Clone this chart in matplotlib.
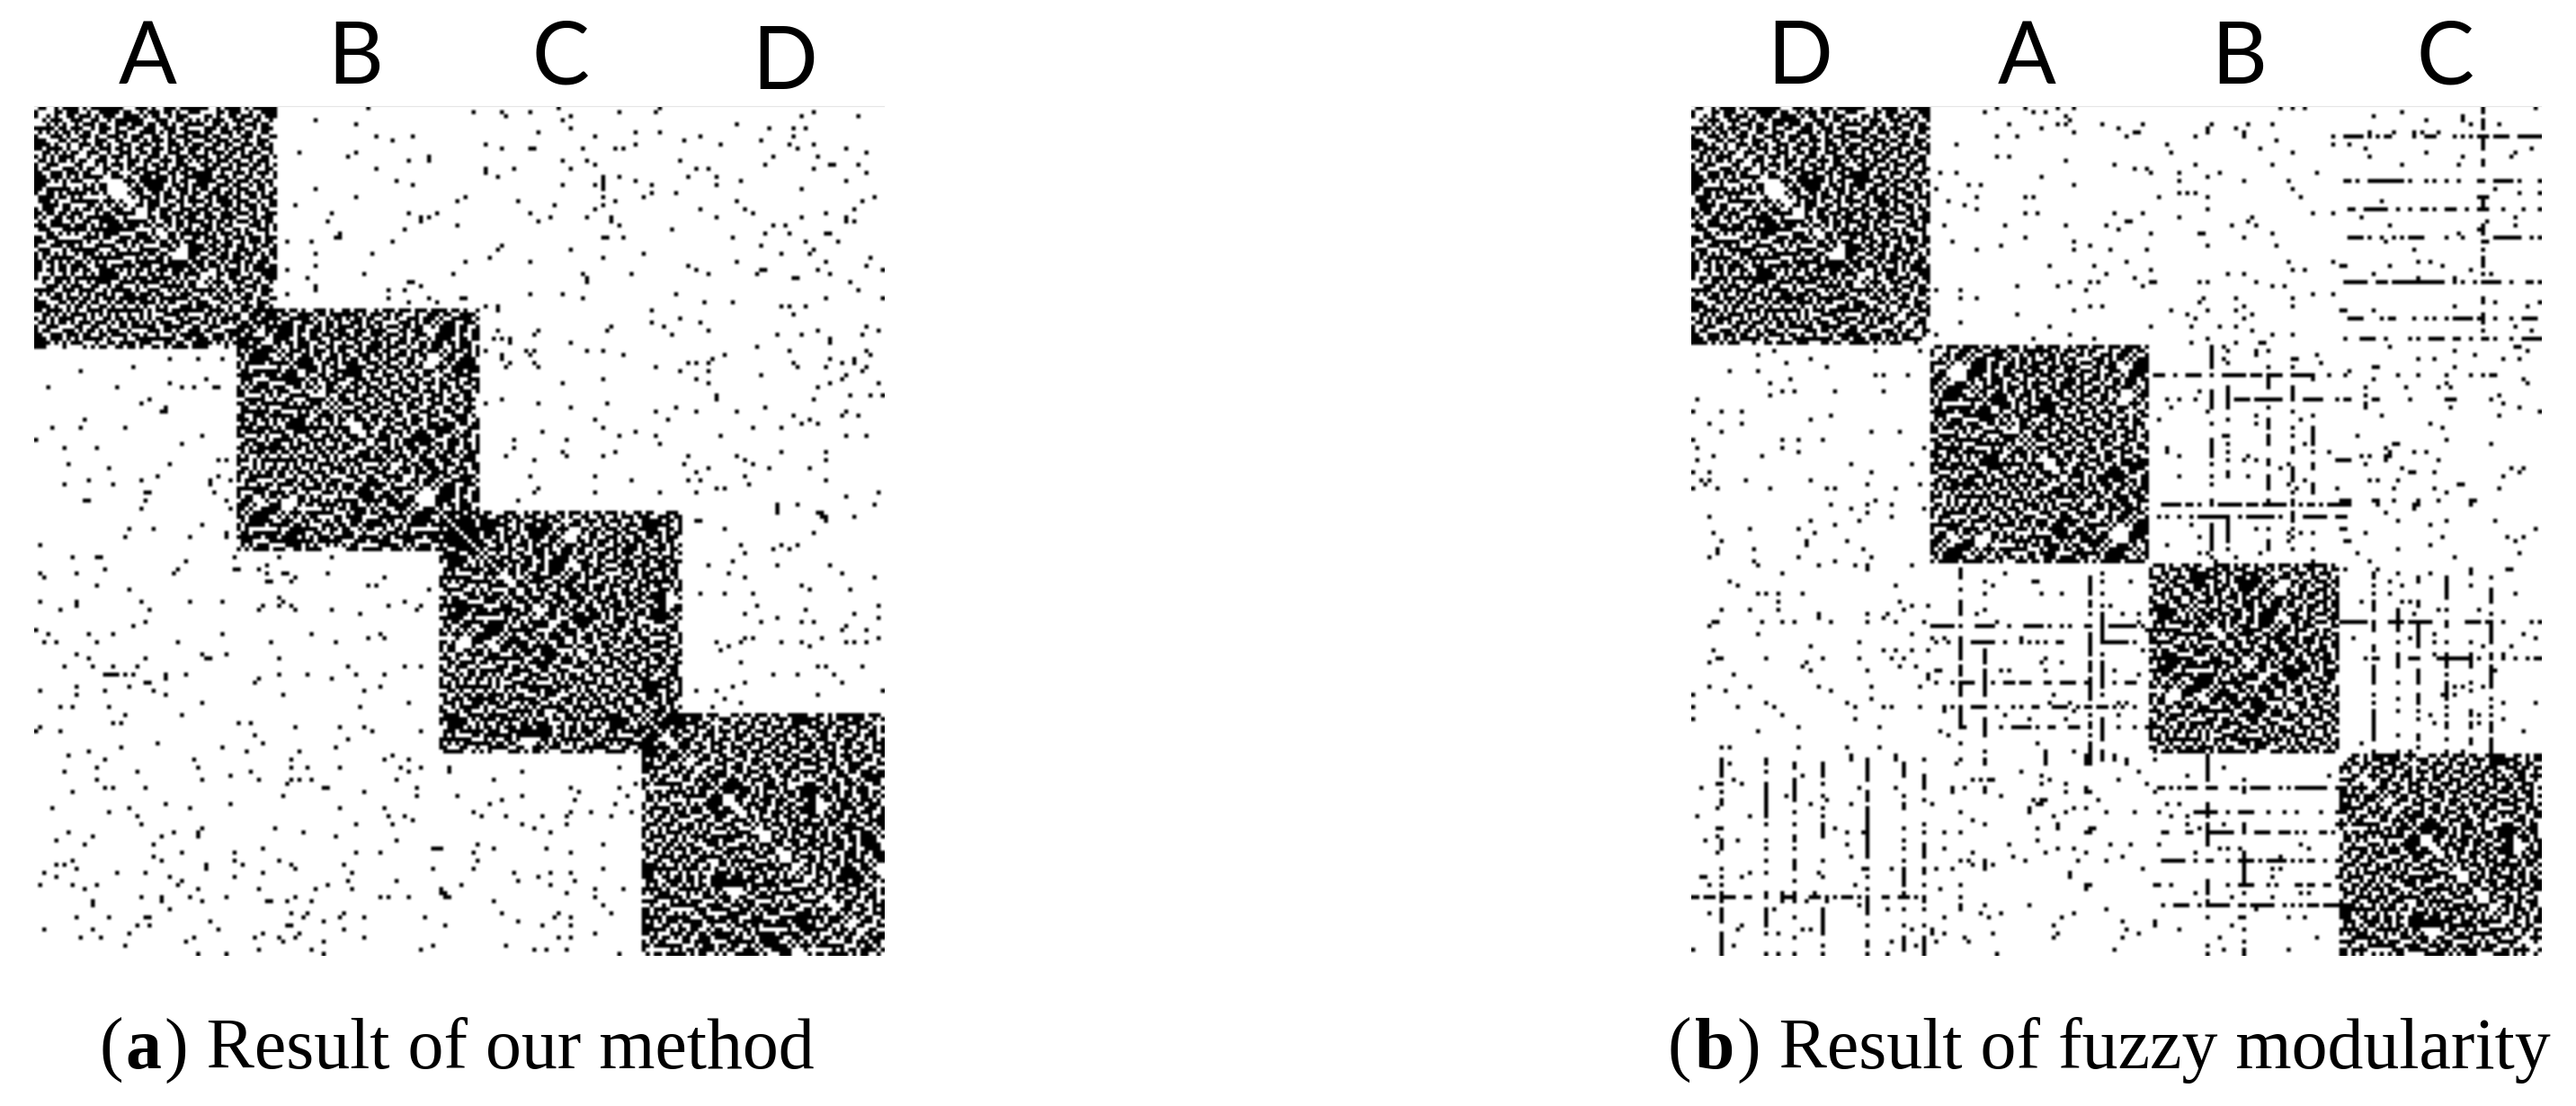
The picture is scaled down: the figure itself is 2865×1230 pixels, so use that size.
import numpy as np
import matplotlib
matplotlib.use("Agg")
import matplotlib.pyplot as plt
from matplotlib.lines import Line2D

N = 210

# Dense communities are too fine to transcribe cell by cell. This texture is an
# eyeballed approximation of one crop of block A, reused with flips and shifts.
# The blocks therefore show the reference's density, not its exact cells.
dense_texture = [
"###..#.####.#.########...###.#..###.####","#....##.###..#..#####.##..#.###.##.#..##",
"..##.#..##.###.#.###..####.#.##..#.###..","#.#.###..###..##..#.#######...###..##.#.",
"##..##.#..#.###.##..###.###.##.##.#..###","..###.##.###..#.###.#..##..###..###.##..",
"#.##..###.#.##..##..###...####.#.##..###","###.##..#..###.#..###.#.###..##..#.###.#",
"..##.###.##.#..###..##..##.#.###.##..##.","##..##.##..###.##.#..###..###.#..###.#.#",
"#.###..#.###..#.###.##.#.##..###.#.##.##","..#.###.##.#.###..#..###..##.##..###..##",
"###..#.##..###..##.###.#.#..###.#..###.#","#.##.###.##..#.###..#..###.##..###.##.#.",
".##.##..#.###.##.#.###.##..#.##.#..###..","..###.###.#..##..##..#.#.###..###.##.###",
"####..#..###.#.###.##...##.####..##.##.#","####.###.#..##..#..###.#..###.###.#..###",
"#####..##.###.##.##...###.#######.#.##..","###..###.##..#.##.#....#.#.#####..##.#.#",
".##.##..#.###..##..#....###.####.#.###.#","#..###.##.#.###.#.##...#.##..##.##..##.#",
"..##.###.##..##.###.###.#.###.#.###.#.##","##.#.####.###..#..##.###..#.###.#..##.##",
"..##..###.#.###.#.##.###.##.###..##.#..#","###.##.#.##..##.##..#.####..##.###..###.",
"#.##..###.###.#..###..#####.#..##.###.##","..###.####...##.###....####.##.###.#.###",
"##.#.##.#.###.##.##..#.####.##..##.##.##",".###.#.##....###.#.##.#.###..###.#.##.#.",
"#.##.##..##.#..###.###.#..#####.#..#.##.","###.#.###.#.##...#..###.##..####.##.####",
"#.###..#.###.###.###.####.##.#..###.#..#","..#.##.##..#.###.##.###.#..###.##.##.###",
"##.##.###.##..#.##.###..###.#..###.#..##","###.##.#..###.##..####.###..####.##...##",
"#..##.##.##.###.#.##..###.##.###.#....##",".##..###.###.#..##.##.#.###.#.###.##..##",
"##.##.#.###.##.###..##.#.##..##.#.###.##","##.###.#..#.#.###.###.##.###.##.##.#.###",
]

# Community spans as (first node, end node)
a_blocks = [(0, 60), (50, 110), (100, 160), (150, 210)]
b_blocks = [(0, 59), (59, 113), (113, 160), (160, 210)]

# Panel (a): row -> columns of isolated cells (mirrored below)
a_sparse = {
0:"82,129,154",1:"108,115,122,144,153,192",2:"116,132,189,203",3:"69,130",4:"79,173",5:"132,181,187,190",
6:"124,148,154",7:"84,93,138,164,187",8:"88,160,179",9:"111,148,169,186,192",10:"115,122,123,135,143,145,188,200",
11:"65,79,205",12:"77,97,182,193",13:"92,97,130,136,159",14:"138,180,196,197,203",15:"84,111,118,132,163,166,192",
16:"111,205",17:"114,140,144,161,168",18:"89,140,148,174,200",19:"93,130,138,140,152,168",20:"69,140,189",
21:"152,158",22:"79,106,140,150,207",23:"104,119,143,173,204",24:"64,128,140",25:"138,164,175,202",
26:"73,92,99,122,177,195",27:"95,97,127,136,142,168,189,200",28:"72,95,124,142,200,202",29:"104,144,182,185",
30:"91,157",31:"75,180,186,195,196",32:"74,75,140,141,145,172",33:"62,68,88,190,198",34:"115,179",35:"114,132,192",
36:"69,83,150,184,191",37:"112,140,206",38:"106,122,173,195",39:"69,161,205",40:"62,163,179,180,193,209",
41:"81,103,135,147,166,178,196",42:"67,136,187,188",43:"92,93,136,201",44:"69,95",45:"69,87,91,203",
46:"62,122,130,158",47:"87,97,105,106,135,195,209",48:"92,99,165,172",49:"111,114,184,186,190",50:"114,152",
51:"187",52:"159",53:"152,164",54:"142,155,205",55:"114,124,141,166,193,208",56:"123,157,183,189,204",
57:"113,115,117,196",58:"117,132,196",59:"178",60:"111,121,123,136,140,186,205",61:"115,122,145,170,206",
62:"115,167,196,202",63:"117,123,161,163,166,187,199,202",64:"116,124,153,188,195,205",65:"159,166,204",
66:"179,200",67:"140,163,199",68:"130,166,196,208",69:"193",71:"168,201,206,209",72:"115,168,192",73:"111,124,141",
74:"132,158,180",75:"153,163,173,200",76:"187,199,203",77:"138,156,191",78:"189,193",79:"140,177,184",80:"125,148",
81:"144,153,169,200,205",82:"118,131",83:"154",84:"118",85:"130,143,184,195",86:"116,131,140,161,173",
87:"123,175,195",88:"160,177",89:"166,181,191",90:"163",91:"122,138,175",92:"147,161,164,195",93:"176",
94:"124,168,170",95:"123,138,154,163,208",96:"200",97:"119",98:"183,188,207",99:"183",100:"193,194",
101:"195,202",102:"164",104:"170",105:"192",
163:"102,144",164:"102,120",166:"113",167:"148",168:"132,144",169:"134",170:"104,120,146",171:"115,133",
172:"112,143",174:"108,132,137,147",175:"110,116,125,131,142",177:"120,131",178:"123",179:"127",
182:"109,140",183:"100,113,126",184:"108,132",186:"109",188:"108,140",189:"118,127,132",190:"124",
191:"119,133",192:"105,127",193:"100,138,145",194:"101,131",195:"102,138",196:"113",197:"140",
199:"115,129,142",200:"128,132",201:"119",202:"101,125,132",204:"138",205:"129,132",207:"116",
208:"123,126,131",209:"144",
}

# Panel (b): isolated cells (mirrored below)
b_sparse = {
0:"75,82,90,94,145,148,151,208",1:"72,84,87,175",2:"92,168,190",3:"93,181,190",4:"78,90,92,101,111,128,137,143,192,199",
5:"86,105,127,134",6:"94,109,110,127,136,167,173,178,180,184",7:"75,80,107,124,136,158",8:"144",9:"65,117,158,162",
10:"140,166,207",11:"118,148,181,203",12:"75,78,167,190,202",13:"92",14:"104,124,143,175,189",15:"109,112",
16:"61,65,113,120,130,154",17:"86,127",18:"120,136,147",19:"68,71,94",20:"60,148,198",21:"120,122,124,204,209",
22:"70,82,84,115,127,150,194,196",23:"63,170",24:"67",25:"70,127",26:"82,85,104,111,153,158",27:"120,138,165,203",
28:"107,108,137,196",29:"62,77,92,102,133,139,172,203",30:"105,194",31:"113,125,126,143,189",32:"82,136",
33:"64,94,171,196",34:"76,98,127,144",35:"70,94,103,112,178",38:"107,147,158,179,182",39:"88,99,160,161,172,185",
40:"113,148,151,192",41:"102,132,136,168,197",42:"109,179,188",43:"93,98,100,113,114,125,127,139",44:"80,90,111,143,146",
45:"60,66,97",46:"153,158",47:"66,70,126,134,148",48:"125,198,209",49:"98,101,136,148,188,206",50:"94,118,127,134,160,161,168",
51:"80,122,138",52:"124,136",53:"66",54:"88,113,123,130,134,203",55:"138,207",56:"60,93,143,148",57:"84,99,127",
58:"123,134,140,141",59:"131,172,203,204",60:"139,142,188,206",61:"139,154,193",62:"131,149,179,183,200,204",63:"155",
64:"168,169,188",65:"162",66:"174,179,186,192,195,197,198",67:"168,205",68:"186,206",69:"166,176,184,187",
70:"125",71:"166,199",72:"161,162,168,169,177,186,187,188,197",73:"166,200",74:"118,166,187,204",75:"127,209",
76:"139,170,199",77:"115,150",78:"139,182",79:"142,185",81:"131,164",82:"186",83:"151,173,174,197",84:"117,171",
85:"117,157,172,178,181",86:"120,137,165,167,171,172",87:"136,139,159,160,161,162,171,184",88:"147,166",89:"145,175,202,205",
90:"132,177,178,183,204",91:"120,137,200",92:"151,167,169,174",93:"147,189,190",94:"149,159,173,183,199",95:"186",
97:"160,161,162,168,169,173,179,184,192,193",98:"160,162,169,178,179,192",99:"178",
100:"171",102:"174,186,198",103:"123,182",104:"139,160,161,208",105:"147,150,166",106:"125,185,201,205",
107:"147,161,162,203",108:"117,182",109:"174",110:"125,127,140,164,204",111:"128,134,188",112:"129,167",
114:"161,169,192,201,202",115:"182",117:"172",118:"175",120:"172,203",122:"165,175,177",124:"184,194",125:"178",
130:"183,205",131:"163,177,208",132:"183",133:"195,202",135:"183,200",139:"198",143:"188,190,195",
145:"185,188",147:"200,208",150:"182,194",151:"179,200",152:"183,194",154:"205",157:"165",159:"177,190",
}

# Panel (b): rows that show as dashed bands across a neighbouring community
b_row_bands = {
7:"161-165,167,169,171,172,178,181-183,188,190,192,194-196,198-201,204-209",
18:"161,162,164,167-175,177,181,183,186,189,194,195,198-202,204,209",
25:"162,163,166-171,174,177,180,181,183,186-188,191,194-196,200,205,209",
32:"162-165,167,170,173,175,177-180,186,190,198-204,207,209",
43:"161-166,169-171,173-185,188,190,193,195-199,202,206,207,209",
52:"162-165,170,172,173,178,181,183,186,188-192,194,195,198,202,205-208",
57:"161,165-168,171,177,179,182-185,188,189,192,195,196,198,202,205-209",
66:"114-116,119,122-125,128,131,133-136,138-140,143-145,148-153,157,161",
72:"117,120,124,128,132,134-137,139-145,151-155,159,161",
98:"116-120,122,123,125,128,130-135,137-139,141-146,148,150,152,153,155,157-161",
101:"115,117,120,123,125-131,135,137-143,145,148,151-156,159-161",
127:"160-166,172-175,177-182,186,191-194,196,197,200,207,209",
136:"166,169,174,177-179,184-192,194,197,200,203,206,208,209",
}

# Panel (b): columns that show as dashed bands (column -> rows)
b_col_bands = {
128:"59-64,66,70-74,78,82-86,88,91,93,97,98,101,103-109",
132:"60,63,66,69-74,77,81,83,85,87,90,91,98,101-107,109,113",
142:"60,64,66-69,72,74,77,78,81-83,87,88,91-94,97,101,104,107-109",
148:"62,64,66,69-72,75,79,81,84,85,89-92,95,97,100,102,104,106,109",
153:"67,72,76,79-83,85,88,89,93-95,98,101,105,109,112-114",
195:"0,1,3,4,5,7-10,13,14,18,22-25,29,30,31,33,35,37-39,41,43,47,48,51-53,55,57",
168:"115,116,118,120,122-124,127-129,133,134,136,138-142,145,147,149-156,159",
174:"115,124-129,132,135-138,142,146,149,155,159",
179:"116,117,122,123,127-133,136,139-142,145-147,149,155,156,158",
186:"116-121,124,127,128,132,135-138,140,142-146,148,150,152,153,156,159",
192:"114,115,118,127,132,135-138,142,144,149,150,152,153,156,157",
197:"116,119-122,125,127-132,135,138-143,146,148,150,152-154,156-159",
}

a_column_labels = ["A", "B", "C", "D"]
b_column_labels = ["D", "A", "B", "C"]
a_caption = ("(", "a", ") Result of our method")
b_caption = ("(", "b", ") Result of fuzzy modularity")


def parse(spec):
    out = []
    for part in spec.split(","):
        if "-" in part:
            lo, hi = part.split("-")
            out.extend(range(int(lo), int(hi) + 1))
        else:
            out.append(int(part))
    return out


def build(blocks, sparse, row_bands=None, col_bands=None):
    dense = np.zeros((N, N), dtype=bool)
    tex = np.array([[ch == "#" for ch in r[:40].ljust(40, ".")] for r in dense_texture])
    for k, (s, e) in enumerate(blocks):
        t = tex
        if k % 2:
            t = t[::-1, :]
        if k >= 2:
            t = t[:, ::-1]
        ii = (np.arange(e - s) + 7 * k) % 40
        jj = (np.arange(e - s) + 13 * k) % 40
        dense[s:e, s:e] |= t[np.ix_(ii, jj)]
    upper = np.triu(dense, 1)
    m = upper | upper.T
    extra = np.zeros((N, N), dtype=bool)
    for r, spec in sparse.items():
        extra[r, parse(spec)] = True
    for r, spec in (row_bands or {}).items():
        extra[r, parse(spec)] = True
    for c, spec in (col_bands or {}).items():
        extra[parse(spec), c] = True
    return m | extra | extra.T


W, H = 2865, 1230
fig = plt.figure(figsize=(W / 100, H / 100), dpi=100, facecolor="white")


def panel(x0, mat):
    ax = fig.add_axes([x0 / W, 1 - 1063 / H, 945 / W, 945 / H])
    ax.imshow(~mat, cmap="gray", vmin=0, vmax=1, interpolation="hanning", aspect="auto")
    ax.axis("off")
    fig.add_artist(Line2D([x0 / W, (x0 + 945) / W], [1 - 117.5 / H] * 2, color="#e6e6e6", lw=0.8))


panel(38, build(a_blocks, a_sparse))
panel(1881, build(b_blocks, b_sparse, b_row_bands, b_col_bands))

for lab, x, y in zip(a_column_labels, [164, 395, 623, 873], [66, 66, 66, 72]):
    fig.text(x / W, 1 - y / H, lab, family="Lato", fontsize=69, ha="center", va="center")
for lab, x in zip(b_column_labels, [2002, 2254, 2490, 2720]):
    fig.text(x / W, 1 - 66 / H, lab, family="Lato", fontsize=69, ha="center", va="center")


def caption(x, parts):
    r = fig.canvas.get_renderer()
    for part, weight in zip(parts, ["normal", "bold", "normal"]):
        t = fig.text(x / W, 1 - 1188 / H, part, family="Liberation Serif", fontsize=57.5,
                     weight=weight, ha="left", va="baseline")
        x += t.get_window_extent(r).width + (3 if part != parts[2] else 0)


caption(110, a_caption)
caption(1855, b_caption)

fig.savefig("out.png", dpi=100, facecolor="white")
